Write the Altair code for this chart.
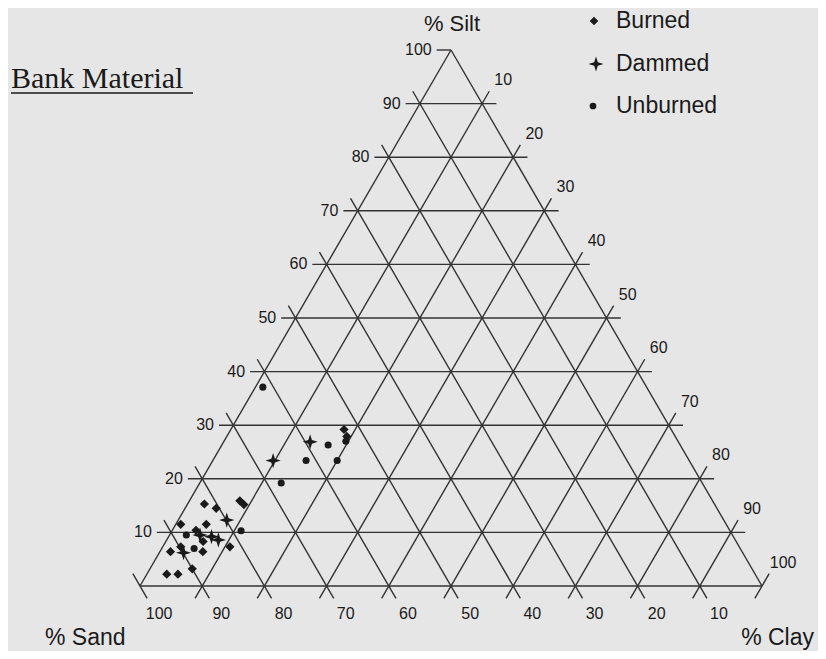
import altair as alt
import pandas as pd

# ---------------- data (percent) ----------------
burned_sand = [82.0, 80.5, 76.0, 75.7, 87.7, 83.6, 85.8, 85.7, 81.9, 89.8, 91.9, 86.7, 90.0, 94.6, 92.8, 52.6, 52.8]
burned_silt = [15.3, 14.5, 15.9, 15.2, 11.5, 11.5, 10.4, 8.3, 7.3, 7.3, 6.4, 6.4, 3.2, 2.2, 2.2, 29.2, 27.9]
burned_clay = [2.7, 5.0, 8.1, 9.1, 0.8, 4.9, 3.8, 6.0, 10.8, 2.9, 1.7, 6.9, 6.8, 3.2, 5.0, 18.2, 19.3]

dammed_sand = [79.9, 85.6, 83.9, 83.1, 89.9, 59.2, 66.9]
dammed_silt = [12.3, 9.5, 9.2, 8.6, 6.2, 26.9, 23.4]
dammed_clay = [7.8, 4.9, 6.9, 8.3, 3.9, 13.9, 9.7]

unburned_sand = [61.7, 56.6, 61.6, 56.6, 67.7, 53.4, 78.6, 87.8, 87.8]
unburned_silt = [37.1, 26.3, 23.4, 23.4, 19.2, 27.0, 10.3, 9.5, 7.0]
unburned_clay = [1.2, 17.1, 15.0, 20.0, 13.1, 19.6, 11.1, 2.7, 5.2]

groups = ["Burned", "Dammed", "Unburned"]
grid_values = [10, 20, 30, 40, 50, 60, 70, 80, 90]
tick_labels = [10, 20, 30, 40, 50, 60, 70, 80, 90, 100]

# ---------------- layout ----------------
W, H = 810, 643
LEFT_PX, RIGHT_PX, BASE_PX, APEX_PX = 140, 762, 586, 50
SX = (RIGHT_PX - LEFT_PX) / 100.0
SY = (BASE_PX - APEX_PX) / 100.0
X_DOM = [(8 - LEFT_PX) / SX, (8 + W - LEFT_PX) / SX]
Y_DOM = [(BASE_PX - (8 + H)) / SY, (BASE_PX - 8) / SY]
EXT = 2.3  # tick extension beyond triangle (percent units)
LINE = "#333333"
INK = "#1a1a1a"
BG = "#e6e6e6"
SANS = "Liberation Sans, Arial, sans-serif"
SERIF = "Liberation Serif, Times New Roman, serif"
STAR = "M0,-1L0.24,-0.24L1,0L0.24,0.24L0,1L-0.24,0.24L-1,0L-0.24,-0.24Z"
SHAPES = ["diamond", STAR, "circle"]
SIZES = [85, 230, 50]
LEGEND_SIZES = [75, 230, 45]

xs = alt.Scale(domain=X_DOM, nice=False, zero=False)
ys = alt.Scale(domain=Y_DOM, nice=False, zero=False)


def xy(silt, clay):
    return clay + silt / 2.0, silt


# ---------------- grid segments ----------------
segs = []


def seg(p, q):
    (x1, y1), (x2, y2) = xy(*p), xy(*q)
    segs.append({"x": x1, "y": y1, "x2": x2, "y2": y2})


for v in grid_values:
    seg((v, -EXT), (v, 100 - v + EXT))                 # constant silt
    seg((100 - v + EXT, -EXT), (-EXT, 100 - v + EXT))  # constant sand
    seg((-EXT, v), (100 - v + EXT, v))                 # constant clay
# edges
seg((0, 0), (0, 100))
seg((0, 0), (100, 0))
seg((0, 100), (100, 0))
# vertex ticks
seg((EXT, -EXT), (-EXT, EXT))      # sand = 100
seg((-EXT, 100), (EXT, 100))       # clay = 100
seg((100, -EXT), (100, 0))         # silt = 100
grid_df = pd.DataFrame(segs)

grid = alt.Chart(grid_df).mark_rule(color=LINE, strokeWidth=1.4).encode(
    x=alt.X("x:Q", scale=xs, axis=None),
    y=alt.Y("y:Q", scale=ys, axis=None),
    x2="x2:Q",
    y2="y2:Q",
)

# ---------------- tick labels ----------------
silt_lab = pd.DataFrame([{"x": xy(v, -EXT)[0], "y": xy(v, -EXT)[1], "t": str(v)} for v in tick_labels])
clay_lab = pd.DataFrame([{"x": xy(100 - v + EXT, v)[0], "y": xy(100 - v + EXT, v)[1], "t": str(v)} for v in tick_labels])
sand_lab = pd.DataFrame([{"x": xy(-EXT, 100 - v + EXT)[0], "y": xy(-EXT, 100 - v + EXT)[1], "t": str(v)} for v in tick_labels])


def lab(df, **kw):
    return alt.Chart(df).mark_text(font=SANS, fontSize=16, color=INK, baseline="middle", **kw).encode(
        x=alt.X("x:Q", scale=xs, axis=None),
        y=alt.Y("y:Q", scale=ys, axis=None),
        text="t:N",
    )


labels = [
    lab(silt_lab, align="right", dx=-5),
    lab(clay_lab, align="center", dx=14, dy=-11),
    lab(sand_lab, align="center", dx=12, dy=16),
]

# ---------------- data points (one layer per group) ----------------
point_layers = []
for g, sa, si, cl, shp, sz in [
    ("Burned", burned_sand, burned_silt, burned_clay, SHAPES[0], SIZES[0]),
    ("Dammed", dammed_sand, dammed_silt, dammed_clay, SHAPES[1], SIZES[1]),
    ("Unburned", unburned_sand, unburned_silt, unburned_clay, SHAPES[2], SIZES[2]),
]:
    df = pd.DataFrame({"group": g, "sand": sa, "silt": si, "clay": cl})
    point_layers.append(
        alt.Chart(df).transform_calculate(
            X="datum.clay + datum.silt / 2", Y="datum.silt"
        ).mark_point(filled=True, opacity=1, color=INK, shape=shp, size=sz, strokeWidth=0).encode(
            x=alt.X("X:Q", scale=xs, axis=None),
            y=alt.Y("Y:Q", scale=ys, axis=None),
        )
    )

# ---------------- annotations (pixel positions in view) ----------------
one = pd.DataFrame({"a": [0]})


def txt(t, px, py, size, font=SANS, align="left", baseline="alphabetic"):
    return alt.Chart(one).mark_text(
        text=t, font=font, fontSize=size, color=INK, align=align, baseline=baseline
    ).encode(x=alt.value(px - 8), y=alt.value(py - 8))


annos = [
    txt("% Silt", 452, 31, 22, align="center"),
    txt("% Sand", 45, 645, 23),
    txt("% Clay", 814, 645, 23, align="right"),
    txt("Bank Material", 11, 88, 30, font=SERIF),
    alt.Chart(one).mark_rule(color=INK, strokeWidth=1.5).encode(
        x=alt.value(11 - 8), x2=alt.value(193 - 8), y=alt.value(93 - 8)
    ),
]

legend_y = [21, 64, 106]
legend_marker_x = [594, 596, 593]
for g, ly, mx, shp, sz in zip(groups, legend_y, legend_marker_x, SHAPES, LEGEND_SIZES):
    annos.append(
        alt.Chart(one).mark_point(filled=True, opacity=1, color=INK, shape=shp, size=sz, strokeWidth=0).encode(
            x=alt.value(mx - 8), y=alt.value(ly - 8)
        )
    )
    annos.append(txt(g, 616, ly, 23, baseline="middle"))

chart = alt.layer(grid, *labels, *point_layers, *annos).properties(
    width=W, height=H, autosize=alt.AutoSizeParams(type="none"), padding=0, background=BG
).configure_view(stroke=None)

chart.save("out.html", embed_options={"renderer": "svg", "actions": False})
